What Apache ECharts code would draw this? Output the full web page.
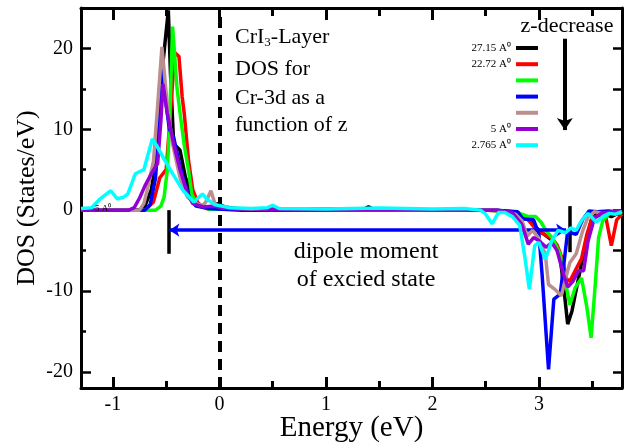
<!DOCTYPE html>
<html><head><meta charset="utf-8">
<script src="https://cdn.jsdelivr.net/npm/echarts@6/dist/echarts.min.js"></script>
<style>html,body{margin:0;padding:0;background:#fff}#c{width:628px;height:443px}</style>
</head><body><div id="c"></div>
<script>
// ---- data ----
const seriesNames = ['27.15', '22.72', 'z3', 'z4', 'z5', '5', '2.765'];
const legendLabels = ['27.15 A⁰', '22.72 A⁰', '', '', '', '5 A⁰', '2.765 A⁰'];
const seriesColors = ['#000000', '#ff0000', '#00ff00', '#0000ff', '#bc8f8f', '#9400d3', '#00ffff'];

const black = [[-1.3,0],[-0.75,0],[-0.7,0.5],[-0.64,2.5],[-0.58,7.4],[-0.54,17],[-0.48,24.7],[-0.46,17],[-0.43,8.2],[-0.37,7.4],[-0.32,4.1],[-0.24,1.2],[-0.15,0.4],[-0.08,0.3],[-0.02,0.8],[0.05,0.4],[0.15,0.2],[0.4,0.1],[1.0,0.1],[1.35,0.1],[1.4,0.4],[1.45,0.1],[2.4,0],[2.6,0],[2.8,-0.3],[2.88,-1],[2.93,-1.5],[3.0,-2.5],[3.05,-3],[3.09,-3.4],[3.15,-4],[3.2,-5.9],[3.23,-9.2],[3.27,-14.1],[3.31,-12.5],[3.34,-10.5],[3.38,-7.9],[3.43,-4.6],[3.49,-1.3],[3.55,-0.3],[3.62,-0.5],[3.68,-0.8],[3.74,-0.4],[3.78,-0.8]];
const red = [[-1.3,0],[-0.7,0],[-0.62,1],[-0.56,4],[-0.5,5],[-0.46,12],[-0.42,19.5],[-0.38,19],[-0.35,14],[-0.33,11.9],[-0.29,6.1],[-0.25,2.5],[-0.2,0.8],[-0.12,0.2],[0.2,0.1],[2.5,0],[2.7,-0.2],[2.8,-0.4],[2.9,-1.2],[2.98,-2.5],[3.05,-3],[3.12,-3.5],[3.17,-4.3],[3.22,-6],[3.26,-8.5],[3.29,-8.8],[3.34,-7.5],[3.4,-6],[3.45,-3],[3.5,-0.9],[3.58,-0.6],[3.63,-1],[3.68,-4.4],[3.73,-1.2],[3.78,-0.5]];
const green = [[-1.3,0],[-0.6,0],[-0.55,0.5],[-0.52,1.6],[-0.49,4.9],[-0.47,10],[-0.44,22.7],[-0.4,15.3],[-0.37,12],[-0.33,8],[-0.29,4.9],[-0.26,2],[-0.21,0.6],[-0.1,0.1],[2.5,0],[2.7,-0.1],[2.8,-0.3],[2.9,-0.8],[2.97,-0.8],[3.02,-1.5],[3.07,-2.6],[3.13,-3.5],[3.2,-5.5],[3.25,-9],[3.29,-11.7],[3.34,-9.6],[3.4,-8.4],[3.45,-12],[3.49,-15.8],[3.53,-9],[3.56,-3.4],[3.6,-1.3],[3.66,-0.4],[3.72,-0.2],[3.78,-0.4]];
const blue = [[-1.3,0],[-0.7,0],[-0.65,0.7],[-0.6,4],[-0.57,10],[-0.53,17.7],[-0.5,13],[-0.47,10],[-0.43,9],[-0.38,6],[-0.33,3.5],[-0.28,1.5],[-0.22,0.5],[-0.1,0.2],[0.2,0],[2.6,0],[2.8,-0.2],[2.85,-1.1],[2.95,-1.2],[3.0,-3],[3.03,-8],[3.09,-19.7],[3.14,-11],[3.2,-10.4],[3.24,-6],[3.27,-2.6],[3.3,-2.8],[3.35,-3],[3.41,-1.2],[3.47,-0.1],[3.55,-0.2],[3.65,-0.1],[3.78,-0.3]];
const brown = [[-1.3,0],[-0.75,0],[-0.71,0.8],[-0.68,2.4],[-0.62,6],[-0.58,13],[-0.54,20.2],[-0.49,13],[-0.44,8.2],[-0.37,4],[-0.3,1.6],[-0.22,0.8],[-0.15,0.6],[-0.12,1.2],[-0.08,2.4],[-0.04,0.7],[0.02,0.3],[0.3,0.1],[2.5,0],[2.6,0],[2.78,-0.5],[2.84,-1.3],[2.89,-3.2],[2.94,-2.5],[3.0,-3.5],[3.06,-5.5],[3.09,-9.2],[3.15,-9.8],[3.21,-10.6],[3.25,-8.5],[3.29,-6.5],[3.35,-5.4],[3.41,-2.6],[3.46,-0.9],[3.52,-0.2],[3.6,-0.4],[3.78,-0.2]];
const purple = [[-1.3,0],[-0.85,0],[-0.8,0.3],[-0.75,1.5],[-0.7,3],[-0.64,4.5],[-0.58,5.8],[-0.55,11],[-0.53,15.6],[-0.49,12],[-0.43,8.2],[-0.37,5],[-0.3,2],[-0.25,0.8],[-0.15,0.4],[-0.05,0.5],[0.05,0.2],[0.5,0.1],[2.5,0],[2.6,0],[2.75,-0.3],[2.84,-1.8],[2.9,-4.2],[2.95,-3.4],[3.0,-3.8],[3.07,-4.6],[3.12,-4],[3.17,-5],[3.23,-7.9],[3.27,-9.5],[3.32,-8.8],[3.37,-7.5],[3.42,-7.5],[3.46,-3.9],[3.52,-1],[3.6,-0.3],[3.78,-0.2]];
const cyan = [[-1.3,0.2],[-1.2,0.3],[-1.12,1.4],[-1.02,2.4],[-0.96,1.4],[-0.9,1.6],[-0.86,2],[-0.79,4.5],[-0.71,5],[-0.63,8.8],[-0.59,8],[-0.52,6.3],[-0.43,4.3],[-0.34,2.4],[-0.24,1],[-0.16,2],[-0.12,1.4],[-0.05,0.7],[0.1,0.3],[0.3,0.2],[0.45,0.3],[0.5,0.6],[0.56,0.2],[1.0,0.15],[1.5,0.25],[2.0,0.15],[2.3,0.2],[2.45,0],[2.5,-0.5],[2.56,-1.7],[2.62,-0.3],[2.68,-0.3],[2.75,-0.8],[2.82,-1.9],[2.87,-6],[2.91,-9.8],[2.96,-4.4],[3.0,-4],[3.06,-6.1],[3.12,-3.8],[3.18,-2.5],[3.25,-2.8],[3.3,-2.2],[3.35,-2.5],[3.4,-1.3],[3.46,-0.4],[3.54,-1.5],[3.6,-0.8],[3.66,-0.4],[3.72,-0.5],[3.78,-0.2]];
const seriesData = [black, red, green, blue, brown, purple, cyan];

const xRange = [-1.3, 3.78];
const yRange = [-22, 25];
const xMajorTicks = [-1, 0, 1, 2, 3];
const xMinorTicks = [-0.5, 0.5, 1.5, 2.5, 3.5];
const yMajorTicks = [-20, -10, 0, 10, 20];
const yMinorTicks = [-15, -5, 5, 15];
const yAllTicks = [-20, -15, -10, -5, 0, 5, 10, 15, 20];

// annotation anchors (data units)
const dipoleArrow = [[-0.47, -2.48], [3.255, -2.48]];
const leftBar = [[-0.48, 0], [-0.48, -5.4]];
const rightBar = [[3.285, 0.5], [3.285, -5.2]];
const zArrow = [[3.243, 21.2], [3.243, 9.9]];

// ---- chart ----
const SERIF = 'Liberation Serif';
const chart = echarts.init(document.getElementById('c'), null, {renderer: 'canvas'});

function xAx(pos, ticks, len, showLine, showLabel) {
  return {
    type: 'value', position: pos, min: xRange[0], max: xRange[1],
    axisLine: {show: showLine, onZero: false, lineStyle: {color: '#000', width: 3}},
    axisTick: {show: true, inside: true, length: len, customValues: ticks, lineStyle: {color: '#000', width: 3}},
    axisLabel: showLabel ? {show: true, customValues: ticks, margin: 7, color: '#000', fontSize: 20, fontFamily: SERIF} : {show: false},
    splitLine: {show: false}
  };
}
function yAx(pos, ticks, len, showLine, showLabel) {
  return {
    type: 'value', position: pos, min: yRange[0], max: yRange[1],
    axisLine: {show: showLine, onZero: false, lineStyle: {color: '#000', width: 3}},
    axisTick: {show: true, inside: true, length: len, customValues: ticks, lineStyle: {color: '#000', width: 2.5}},
    axisLabel: showLabel ? {show: true, customValues: ticks, margin: 8, color: '#000', fontSize: 20, fontFamily: SERIF} : {show: false},
    splitLine: {show: false}
  };
}

const xAxes = [
  xAx('bottom', xMajorTicks, 11, true, true),
  xAx('bottom', xMinorTicks, 7, false, false),
  xAx('top', xMajorTicks, 12, true, false),
  xAx('top', xMinorTicks, 8, false, false)
];
Object.assign(xAxes[0], {name: 'Energy (eV)', nameLocation: 'middle', nameGap: 26, nameMoveOverlap: false,
  nameTextStyle: {fontSize: 29, color: '#000', fontFamily: SERIF}});
const yAxes = [
  yAx('left', yMajorTicks, 10, true, true),
  yAx('left', yMinorTicks, 5, false, false),
  yAx('right', yAllTicks, 9, true, false)
];
Object.assign(yAxes[0], {name: 'DOS (States/eV)', nameLocation: 'middle', nameGap: 41, nameMoveOverlap: false,
  nameTextStyle: {fontSize: 26, color: '#000', fontFamily: SERIF}});

function seg(p, style, s0, s1, size) {
  return [
    {coord: p[0], symbol: s0, symbolSize: size, lineStyle: style},
    {coord: p[1], symbol: s1, symbolSize: size}
  ];
}

const series = seriesData.map((d, i) => ({
  name: seriesNames[i], type: 'line', data: d,
  xAxisIndex: 0, yAxisIndex: 0,
  symbol: 'none', showSymbol: false, smooth: false,
  lineStyle: {color: seriesColors[i], width: 3.5},
  itemStyle: {color: seriesColors[i]},
  emphasis: {disabled: true}, animation: false, z: 2 + i
}));
series[series.length - 1].markLine = {
  silent: true, symbol: 'none', animation: false,
  label: {show: false}, emphasis: {disabled: true},
  data: [
    {xAxis: 0, symbol: 'none', lineStyle: {color: '#000', width: 4, type: [11, 7]}},
    seg(leftBar, {color: '#000', width: 3.5, type: 'solid'}, 'none', 'none', 0),
    seg(rightBar, {color: '#000', width: 3.5, type: 'solid'}, 'none', 'none', 0),
    seg(dipoleArrow, {color: '#0000ff', width: 3.5, type: 'solid'}, 'arrow', 'arrow', 10),
    seg(zArrow, {color: '#000', width: 4, type: 'solid'}, 'none', 'arrow', 12)
  ]
};

const txt = (x, y, text, size, align, rich) => ({
  type: 'text', x: x, y: y, z: 100, silent: true,
  style: {text: text, fill: '#000', fontSize: size, fontFamily: SERIF, align: align || 'left', verticalAlign: 'middle', rich: rich}
});

chart.setOption({
  backgroundColor: '#fff',
  animation: false,
  textStyle: {fontFamily: SERIF},
  grid: {left: 81, right: 6, top: 8, bottom: 55, outerBoundsMode: 'none'},
  xAxis: xAxes,
  yAxis: yAxes,
  legend: {
    data: seriesNames, orient: 'vertical', right: 90, top: 42.5, align: 'right', padding: 0,
    icon: 'rect', itemWidth: 22, itemHeight: 4, itemGap: 5.2, selectedMode: false,
    formatter: name => '{a|' + (legendLabels[seriesNames.indexOf(name)] || ' ') + '}',
    textStyle: {fontFamily: SERIF, fontSize: 11, rich: {a: {fontSize: 11, lineHeight: 13, fontFamily: SERIF, color: '#000'}}}
  },
  series: series,
  graphic: [
    txt(235, 37, '{n|CrI}{s|3}{n|-Layer}', 22, 'left', {
      n: {fontSize: 22, fontFamily: SERIF, fill: '#000'},
      s: {fontSize: 13, fontFamily: SERIF, fill: '#000', padding: [12, 0, 0, 0]}
    }),
    txt(235, 69, 'DOS for', 22),
    txt(235, 98, 'Cr-3d as a', 22),
    txt(235, 125, 'function of z', 22),
    txt(567, 26.5, 'z-decrease', 22, 'center'),
    txt(366, 252, 'dipole moment', 24, 'center'),
    txt(366, 280, 'of excied state', 24, 'center'),
    txt(95, 209, '5 A⁰', 9)
  ]
});
</script></body></html>
